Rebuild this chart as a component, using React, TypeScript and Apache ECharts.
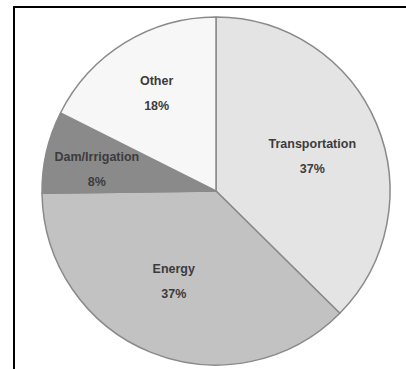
import React, { useEffect, useRef } from "react";
import * as echarts from "echarts";

const categories = ["Transportation", "Energy", "Dam/Irrigation", "Other"];
const shares = [37.4, 37.4, 7.6, 17.6];
const sliceColors = ["#e4e4e4", "#c2c2c2", "#8a8a8a", "#f7f7f7"];
const labelOffsets = [[-8, 9], [0, -14], [-9, 4], [0, -1]];

export default function App() {
  const ref = useRef<HTMLDivElement>(null);
  useEffect(() => {
    document.body.style.margin = "0";
    const chart = echarts.init(ref.current!, null, { renderer: "svg" });
    const data = categories.map((name, i) => ({
      name,
      value: shares[i],
      itemStyle: { color: sliceColors[i] },
    }));
    chart.setOption({
      animation: false,
      backgroundColor: "#ffffff",
      graphic: [
        {
          type: "line",
          shape: { x1: 13, y1: 7, x2: 406, y2: 7 },
          style: { stroke: "#000", lineWidth: 2 },
        },
        {
          type: "line",
          shape: { x1: 14, y1: 6, x2: 14, y2: 369 },
          style: { stroke: "#000", lineWidth: 2 },
        },
      ],
      series: [
        {
          type: "pie",
          center: [216, 191],
          radius: 174,
          startAngle: 90,
          clockwise: true,
          silent: true,
          data,
          label: { show: false },
          labelLine: { show: false },
          itemStyle: { borderColor: "#8a8a8a", borderWidth: 1.5 },
        },
        {
          type: "pie",
          center: [216, 191],
          radius: [46, 174],
          startAngle: 90,
          clockwise: true,
          silent: true,
          percentPrecision: 0,
          data: categories.map((name, i) => ({
            name,
            value: shares[i],
            label: { offset: labelOffsets[i] },
          })),
          itemStyle: { color: "transparent", borderWidth: 0 },
          labelLine: { show: false },
          label: {
            show: true,
            position: "inside",
            formatter: "{b}\n{d}%",
            fontFamily: "Liberation Sans, Arial, sans-serif",
            fontSize: 12.5,
            fontWeight: "bold",
            color: "#3c3c3c",
            lineHeight: 25,
          },
        },
      ],
    });
    return () => chart.dispose();
  }, []);
  return (
    <div
      ref={ref}
      style={{ position: "absolute", left: 0, top: 0, width: 406, height: 369 }}
    />
  );
}
